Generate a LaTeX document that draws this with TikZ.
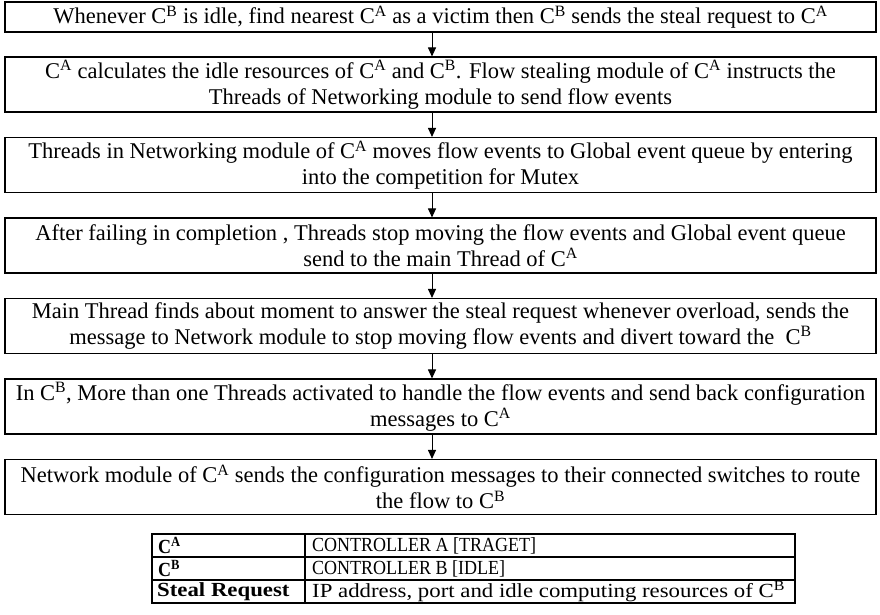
\documentclass[tikz,border=0pt]{standalone}
\usepackage{fontspec}
\setmainfont{Liberation Serif}
\newfontfamily\narrowfont[FakeStretch=0.9]{Liberation Serif}
\newfontfamily\widefont[FakeStretch=1.14]{Liberation Serif}
\usetikzlibrary{arrows.meta}
\newcommand\CA{C\textsuperscript{A}}
\newcommand\CB{C\textsuperscript{B}}
\begin{document}
\begin{tikzpicture}[x=1pt,y=-1pt,
  stepbox/.style={draw, line width=1.1pt, minimum width=871pt, minimum height=55pt,
    inner sep=0pt, align=center, font=\fontsize{22.5}{26}\selectfont},
  flow/.style={-{Triangle[length=9pt,width=8pt]}, line width=1pt},
  cell/.style={anchor=west, inner sep=0pt},
  capsrow/.style={cell, font=\narrowfont\fontsize{20}{20}\selectfont},
  widerow/.style={cell, font=\widefont\fontsize{20}{20}\selectfont},
  grid/.style={line width=1.1pt}]
\useasboundingbox (0,0) rectangle (880,614);

% process steps
\node[stepbox, minimum height=30pt] (s1) at (440.5,17)
  {Whenever \CB{} is idle, find nearest \CA{} as a victim then \CB{} sends the steal request to \CA};
\node[stepbox] (s2) at (440.5,84.5)
  {\CA{} calculates the idle resources of \CA{} and \CB. Flow stealing module of \CA{} instructs the\\
   Threads of Networking module to send flow events};
\node[stepbox] (s3) at (440.5,165)
  {Threads in Networking module of \CA{} moves flow events to Global event queue by entering\\
   into the competition for Mutex};
\node[stepbox] (s4) at (440.5,245.5)
  {After failing in completion , Threads stop moving the flow events and Global event queue\\
   send to the main Thread of \CA};
\node[stepbox] (s5) at (440.5,326)
  {Main Thread finds about moment to answer the steal request whenever overload, sends the\\
   message to Network module to stop moving flow events and divert toward the\ \ \CB};
\node[stepbox] (s6) at (440.5,406.5)
  {In \CB, More than one Threads activated to handle the flow events and send back configuration\\
   messages to \CA};
\node[stepbox] (s7) at (440.5,487)
  {Network module of \CA{} sends the configuration messages to their connected switches to route\\
   the flow to \CB};

% connectors
\coordinate (ax) at (432,0);
\foreach \a/\b in {s1/s2,s2/s3,s3/s4,s4/s5,s5/s6,s6/s7}
  \draw[flow] (\a.south -| ax) -- (\b.north -| ax);

% legend table
\draw[grid] (152,534) rectangle (795,603);
\draw[grid] (152,557) -- (795,557);
\draw[grid] (152,580) -- (795,580);
\draw[grid] (305,534) -- (305,603);
\node[capsrow] (k1) at (158,545.5) {\bfseries\CA};
\node[capsrow] (v1) at (312,545.5) {CONTROLLER A [TRAGET]};
\node[capsrow] (k2) at (158,568.5) {\bfseries\CB};
\node[capsrow] (v2) at (312,568.5) {CONTROLLER B [IDLE]};
\node[widerow] (k3) at (157,591.5) {\bfseries Steal Request};
\node[widerow] (v3) at (312,591.5) {IP address, port and idle computing resources of \CB};
\end{tikzpicture}
\end{document}
